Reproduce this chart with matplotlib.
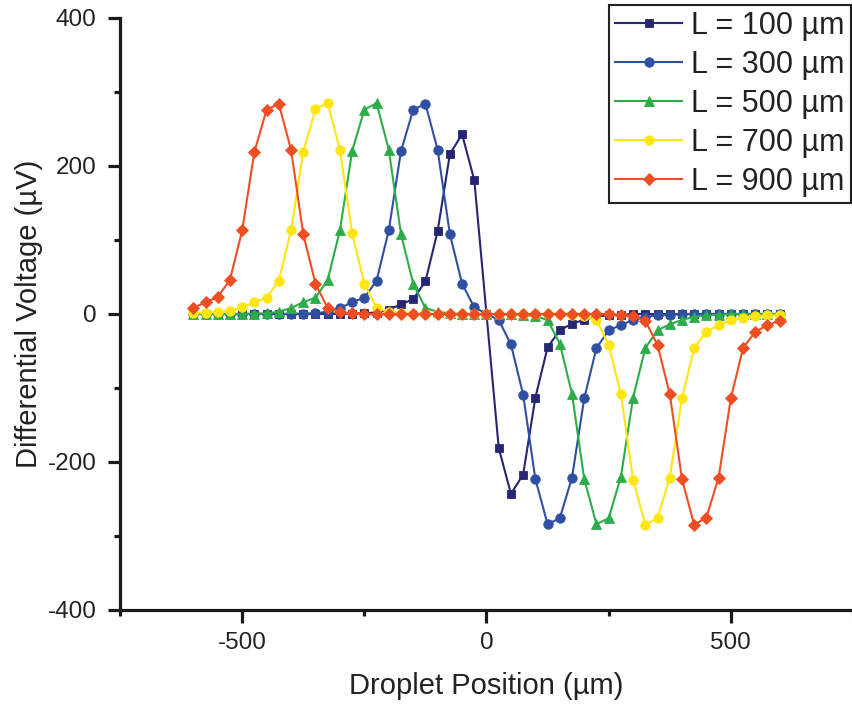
import matplotlib
matplotlib.use("Agg")
import matplotlib.pyplot as plt
from matplotlib.ticker import MultipleLocator

plt.rcParams['font.family'] = ['Liberation Sans', 'DejaVu Sans']
plt.rcParams['axes.unicode_minus'] = False

position = [-600, -575, -550, -525, -500, -475, -450, -425, -400, -375, -350, -325,
            -300, -275, -250, -225, -200, -175, -150, -125, -100, -75, -50, -25, 0,
            25, 50, 75, 100, 125, 150, 175, 200, 225, 250, 275, 300, 325, 350, 375,
            400, 425, 450, 475, 500, 525, 550, 575, 600]

v_L100 = [0, 0, 0, 0, 0, 0, 0, 0, 0, 0, 0, 0,
          0, 0.5, 1, 2, 6, 13, 20, 44, 112, 216, 243, 181, 0,
          -181, -243, -217, -113, -45, -22, -13, -8, -3, -2, -1, 0, 0, 0, 0,
          0, 0, 0, 0, 0, 0, 0, 0, 0]

v_L300 = [0, 0, 0, 0, 0, 0, 0, 0, 0, 0.5, 1, 3,
          8, 16, 22, 45, 113, 220, 276, 284, 222, 108, 41, 9, 0,
          -8, -41, -109, -223, -284, -276, -221, -114, -46, -22, -15, -8, -4, -2, -1,
          0, 0, 0, 0, 0, 0, 0, 0, 0]

v_L500 = [0, 0, 0, 0, 0, 0.5, 1, 3, 8, 16, 22, 46,
          113, 220, 276, 285, 222, 108, 41, 8, 3, 1, 0, 0, 0,
          0, 0, -1, -3, -8, -40, -108, -223, -284, -276, -220, -113, -46, -22, -14,
          -8, -4, -2, -1, 0, 0, 0, 0, 0]

v_L700 = [1, 2, 2.5, 4.5, 9, 16, 22, 45, 113, 219, 277, 285,
          222, 109, 41, 8, 3, 1, 0, 0, 0, 0, 0, 0, 0,
          0, 0, 0, 0, 0, 0, -1, -3, -8, -42, -108, -224, -285, -276, -221,
          -114, -46, -24, -15, -8, -5, -3, -2, -1]

v_L900 = [8, 16, 23, 46, 113, 219, 276, 284, 222, 108, 41, 8,
          3, 1, 0, 0, 0, 0, 0, 0, 0, 0, 0, 0, 0,
          0, 0, 0, 0, 0, 0, 0, 0, 0, 0, -1, -3, -9, -42, -108,
          -223, -285, -275, -221, -114, -46, -24, -15, -9]

labels = ['L = 100 µm', 'L = 300 µm', 'L = 500 µm', 'L = 700 µm', 'L = 900 µm']
series = [v_L100, v_L300, v_L500, v_L700, v_L900]
colors = ['#262673', '#2F4FA2', '#2CAD4A', '#FFE612', '#EF4E23']
markers = ['s', 'o', '^', 'o', 'D']
msizes = [6.0, 6.8, 7.2, 6.8, 6.4]

W, H = 853, 708
fig = plt.figure(figsize=(W / 100, H / 100), dpi=100)
ax = fig.add_axes([120 / W, 1 - 610 / H, (W - 120) / W, (610 - 18) / H])

for vals, lab, c, m, ms in zip(series, labels, colors, markers, msizes):
    ax.plot(position, vals, color=c, marker=m, markersize=ms, linewidth=1.5,
            markeredgewidth=0.6, markeredgecolor=c, label=lab, clip_on=False)

ax.set_xlim(-750, 750)
ax.set_ylim(-400, 400)
ax.xaxis.set_major_locator(MultipleLocator(500))
ax.xaxis.set_minor_locator(MultipleLocator(250))
ax.yaxis.set_major_locator(MultipleLocator(200))
ax.yaxis.set_minor_locator(MultipleLocator(100))

for side in ['top', 'right']:
    ax.spines[side].set_visible(False)
for side in ['left', 'bottom']:
    ax.spines[side].set_linewidth(2.3)
    ax.spines[side].set_color('#1a1a1a')

ax.tick_params(which='major', direction='out', length=9, width=2.3, labelsize=17.5,
               color='#1a1a1a', labelcolor='#222222')
ax.tick_params(which='minor', direction='out', length=4, width=2.3, color='#1a1a1a')
ax.tick_params(axis='x', which='major', pad=7)
ax.tick_params(axis='y', which='major', pad=8)

ax.set_xlabel('Droplet Position (µm)', fontsize=21, color='#222222', labelpad=13)
ax.set_ylabel('Differential Voltage (µV)', fontsize=21, color='#222222', labelpad=3)

leg = ax.legend(loc='upper right', bbox_to_anchor=(851 / W, 1 - 5 / H),
                bbox_transform=fig.transFigure, fontsize=22, frameon=True,
                fancybox=False, edgecolor='#222222', framealpha=1,
                handlelength=2.2, handletextpad=0.3, labelspacing=0.29,
                borderpad=0.2, borderaxespad=0)
leg.get_frame().set_linewidth(1.5)
for t in leg.get_texts():
    t.set_color('#222222')

fig.savefig('out.png', dpi=100)
